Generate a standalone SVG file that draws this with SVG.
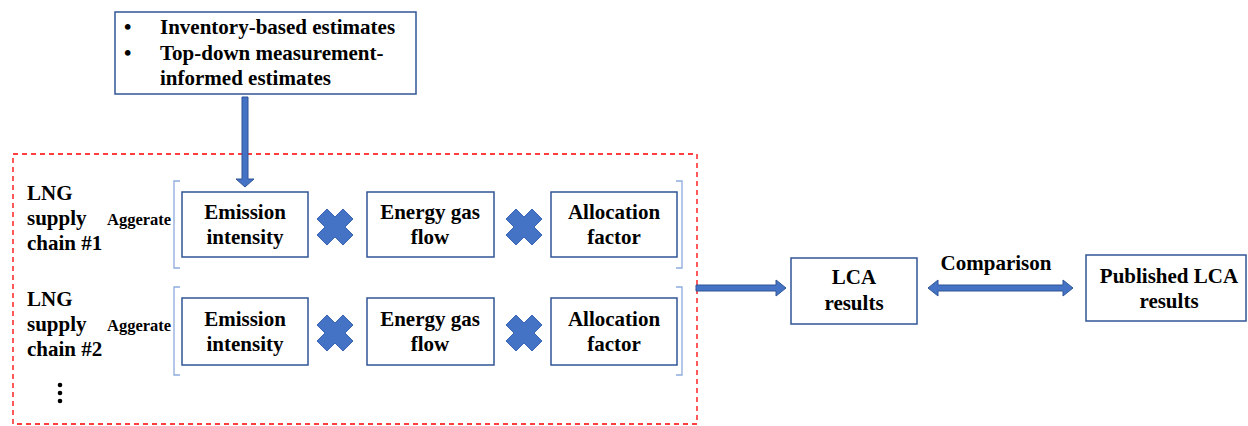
<svg xmlns="http://www.w3.org/2000/svg" width="1248" height="426" viewBox="0 0 1248 426">
<style>
text{font-family:'Liberation Serif','Times New Roman',serif;font-weight:bold;fill:#000}
.t{font-size:21px}
.s{font-size:16.5px}
.box{fill:#fff;stroke:#2F5597;stroke-width:1.5}
.br{fill:none;stroke:#8FAADC;stroke-width:1.3}
.arr{fill:#4472C4;stroke:#2F5597;stroke-width:1}
.x{fill:#4472C4;stroke:#3A66B5;stroke-width:1;stroke-linejoin:round}
</style>
<defs>
<path id="cross" d="M-18,-8 L-8,-18 L0,-10 L8,-18 L18,-8 L10,0 L18,8 L8,18 L0,10 L-8,18 L-18,8 L-10,0 Z"/>
</defs>
<rect x="0" y="0" width="1248" height="426" fill="#fff"/>
<g id="frame">
<rect x="13" y="154" width="684" height="270" fill="none" stroke="#FF0000" stroke-width="1.3" stroke-dasharray="5,4"/>
</g>
<g id="sources">
<rect class="box" x="115" y="12" width="301" height="82"/>
<text class="t" x="124" y="34">•</text>
<text class="t" x="160" y="34">Inventory-based estimates</text>
<text class="t" x="124" y="60">•</text>
<text class="t" x="160" y="60">Top-down measurement-</text>
<text class="t" x="160" y="85">informed estimates</text>
</g>
<g id="chain1">
<text class="t" x="27" y="200">LNG</text>
<text class="t" x="27" y="225">supply</text>
<text class="t" x="27" y="250">chain #1</text>
<text class="s" x="107" y="225">Aggerate</text>
<path class="br" d="M180,181 L174,181 L174,268 L180,268"/>
<path class="br" d="M676,181 L682,181 L682,268 L676,268"/>
</g>
<g id="emission1">
<rect class="box" x="182" y="192" width="126" height="65"/>
<text class="t" x="245" y="219" text-anchor="middle">Emission</text>
<text class="t" x="245" y="244" text-anchor="middle">intensity</text>
</g>
<g id="energy1">
<rect class="box" x="367" y="192" width="127" height="65"/>
<text class="t" x="430" y="219" text-anchor="middle">Energy gas</text>
<text class="t" x="430" y="244" text-anchor="middle">flow</text>
</g>
<g id="allocation1">
<rect class="box" x="551" y="192" width="126" height="65"/>
<text class="t" x="614" y="219" text-anchor="middle">Allocation</text>
<text class="t" x="614" y="244" text-anchor="middle">factor</text>
</g>
<use class="x" href="#cross" x="335" y="227"/>
<use class="x" href="#cross" x="524" y="227"/>
<g id="chain2">
<text class="t" x="27" y="306">LNG</text>
<text class="t" x="27" y="331">supply</text>
<text class="t" x="27" y="356">chain #2</text>
<text class="s" x="107" y="331">Aggerate</text>
<path class="br" d="M180,287 L174,287 L174,375 L180,375"/>
<path class="br" d="M676,287 L682,287 L682,375 L676,375"/>
<circle cx="60" cy="385" r="2.3" fill="#000"/>
<circle cx="60" cy="393" r="2.3" fill="#000"/>
<circle cx="60" cy="401" r="2.3" fill="#000"/>
</g>
<g id="emission2">
<rect class="box" x="182" y="298" width="126" height="67"/>
<text class="t" x="245" y="326" text-anchor="middle">Emission</text>
<text class="t" x="245" y="351" text-anchor="middle">intensity</text>
</g>
<g id="energy2">
<rect class="box" x="367" y="298" width="127" height="67"/>
<text class="t" x="430" y="326" text-anchor="middle">Energy gas</text>
<text class="t" x="430" y="351" text-anchor="middle">flow</text>
</g>
<g id="allocation2">
<rect class="box" x="551" y="298" width="126" height="67"/>
<text class="t" x="614" y="326" text-anchor="middle">Allocation</text>
<text class="t" x="614" y="351" text-anchor="middle">factor</text>
</g>
<use class="x" href="#cross" x="335" y="333"/>
<use class="x" href="#cross" x="524" y="333"/>
<g id="lca">
<rect class="box" x="791" y="258" width="126" height="66"/>
<text class="t" x="854" y="284" text-anchor="middle">LCA</text>
<text class="t" x="854" y="310" text-anchor="middle">results</text>
</g>
<g id="published">
<rect class="box" x="1086" y="255" width="160" height="66"/>
<text class="t" x="1169" y="283" text-anchor="middle">Published LCA</text>
<text class="t" x="1169" y="308" text-anchor="middle">results</text>
</g>
<g id="connectors">
<path class="arr" d="M242,97 L248,97 L248,179 L254,179 L245,187 L236,179 L242,179 Z"/>
<path class="arr" d="M696,285 L776,285 L776,280 L786,288 L776,296 L776,291 L696,291 Z"/>
<path class="arr" d="M928,288 L938,280 L938,285 L1063,285 L1063,280 L1073,288 L1063,296 L1063,291 L938,291 L938,296 Z"/>
<text class="t" x="996" y="270" text-anchor="middle">Comparison</text>
</g>
</svg>
